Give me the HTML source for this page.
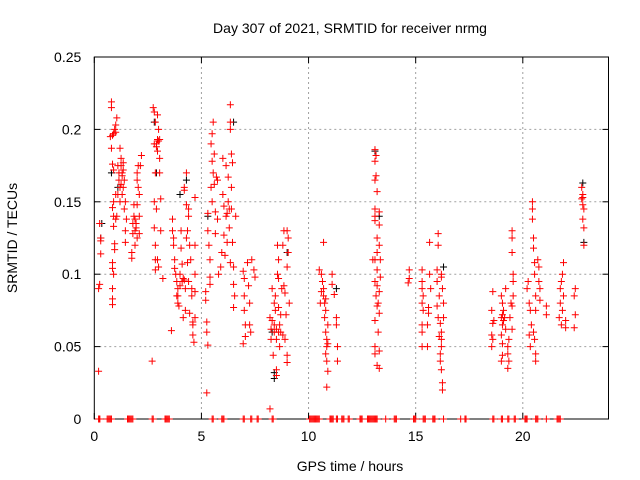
<!DOCTYPE html>
<html><head><meta charset="utf-8"><style>
body{margin:0;background:#fff;}
svg{display:block;font-family:"Liberation Sans",sans-serif;}
</style></head><body>
<svg id="chart" width="640" height="480">
<text x="350" y="33" font-size="14" text-anchor="middle">Day 307 of 2021, SRMTID for receiver nrmg</text>
<text x="350" y="471" font-size="14" text-anchor="middle">GPS time / hours</text>
<text x="0" y="0" font-size="14" text-anchor="middle" transform="translate(17,238) rotate(-90)">SRMTID / TECUs</text>
<g id="grid"></g>
<g id="axes"></g>
<g id="marks"></g>
</svg>
<script>
const xTicks=[0,5,10,15,20];
const yTicks=[0,0.05,0.1,0.15,0.2,0.25];
const yTickLabels=["0","0.05","0.1","0.15","0.2","0.25"];
const redPoints=[[0.2,0.033],[0.2,0.09],[0.25,0.093],[0.3,0.114],[0.3,0.123],[0.25,0.135],[0.3,0.125],
[0.8,0.219],[0.8,0.215],[0.85,0.196],[0.9,0.197],[0.95,0.2],[0.75,0.195],[0.8,0.187],[0.85,0.176],[0.9,0.172],[0.9,0.15],[0.85,0.146],[0.9,0.14],[0.9,0.133],[0.95,0.121],[0.95,0.117],[0.85,0.108],[0.85,0.104],[0.9,0.1],[0.85,0.09],[0.85,0.083],[0.85,0.079],[1.0,0.203],[1.05,0.208],[1.0,0.198],[1.0,0.155],[1.05,0.14],[1.0,0.138],[1.1,0.175],[1.15,0.17],[1.15,0.165],[1.2,0.16],[1.2,0.187],[1.25,0.18],[1.25,0.175],[1.3,0.17],[1.3,0.155],[1.35,0.16],[1.35,0.177],[1.4,0.165],[1.4,0.145],[1.45,0.15],[1.45,0.13],[1.5,0.138],[1.45,0.122],[1.2,0.15],[1.1,0.155],[1.3,0.168],[1.35,0.172],[1.25,0.162],
[1.75,0.115],[1.75,0.111],[1.8,0.128],[1.8,0.135],[1.85,0.14],[1.85,0.148],[1.9,0.13],[1.9,0.12],[1.95,0.135],[2.0,0.17],[2.0,0.165],[2.0,0.148],[2.05,0.175],[2.05,0.16],[2.1,0.155],[2.1,0.14],[2.15,0.175],[2.2,0.182],[2.1,0.128],[2.0,0.125],[1.9,0.138],[1.95,0.132],
[2.7,0.04],[2.75,0.215],[2.8,0.212],[2.8,0.19],[2.85,0.205],[2.85,0.17],[2.8,0.15],[2.8,0.132],[2.85,0.12],[2.85,0.11],[2.85,0.103],[2.9,0.188],[2.9,0.145],[2.95,0.21],[2.95,0.185],[3.0,0.2],[3.0,0.192],[3.0,0.105],[3.05,0.193],[3.05,0.18],[3.05,0.17],[3.1,0.152],[3.1,0.13],[3.2,0.097],[2.95,0.11],[2.9,0.19],[2.95,0.193],
[3.6,0.061],[3.65,0.138],[3.65,0.13],[3.7,0.125],[3.7,0.12],[3.75,0.11],[3.75,0.104],[3.8,0.1],[3.85,0.095],[3.85,0.085],[3.9,0.08],[3.95,0.078],[3.9,0.09],[4.0,0.092],[4.0,0.1],[4.05,0.13],[4.05,0.118],[4.1,0.107],[4.15,0.097],[4.15,0.07],[4.2,0.16],[4.2,0.158],[4.25,0.09],[4.25,0.075],[4.3,0.17],[4.3,0.148],[4.3,0.125],[4.35,0.13],[4.35,0.108],[4.4,0.145],[4.4,0.14],[4.4,0.095],[4.45,0.12],[4.5,0.11],[4.55,0.09],[4.55,0.085],[4.6,0.067],[4.6,0.065],[4.6,0.058],[4.7,0.153],[4.7,0.12],[4.7,0.1],[4.7,0.088],[4.7,0.07],[4.65,0.053],[4.45,0.073],[4.1,0.095],[4.2,0.096],[3.9,0.085],
[5.25,0.018],[5.2,0.088],[5.2,0.082],[5.25,0.067],[5.25,0.06],[5.3,0.051],[5.3,0.142],[5.3,0.13],[5.35,0.12],[5.4,0.11],[5.4,0.098],[5.4,0.093],[5.45,0.16],[5.45,0.19],[5.5,0.197],[5.55,0.205],[5.5,0.178],[5.55,0.17],[5.5,0.15],[5.6,0.183],[5.6,0.162],[5.65,0.143],[5.65,0.128],[5.7,0.167],[5.75,0.165],[5.75,0.138],[5.8,0.1],[5.9,0.105],[5.95,0.115],[6.0,0.18],[6.0,0.155],[6.05,0.147],[6.05,0.127],[6.1,0.113],[6.15,0.175],[6.15,0.14],[6.2,0.122],[6.25,0.167],[6.25,0.15],[6.3,0.132],[6.35,0.217],[6.35,0.205],[6.35,0.2],[6.35,0.108],[6.4,0.183],[6.4,0.145],[6.4,0.16],[6.45,0.177],[6.45,0.122],[6.5,0.093],[6.55,0.085],[6.5,0.077],[6.6,0.14],[6.5,0.105],[6.2,0.142],[6.3,0.145],
[6.95,0.052],[6.95,0.102],[7.0,0.097],[7.0,0.085],[7.0,0.075],[7.05,0.065],[7.05,0.057],[7.15,0.108],[7.2,0.092],[7.25,0.08],[7.25,0.065],[7.3,0.06],[7.35,0.11],[7.45,0.103],[7.5,0.098],
[8.2,0.007],[8.2,0.07],[8.25,0.062],[8.25,0.055],[8.3,0.09],[8.3,0.068],[8.35,0.044],[8.4,0.065],[8.4,0.06],[8.45,0.085],[8.45,0.075],[8.5,0.034],[8.5,0.03],[8.5,0.055],[8.55,0.12],[8.55,0.1],[8.6,0.11],[8.6,0.097],[8.65,0.065],[8.65,0.05],[8.7,0.072],[8.7,0.06],[8.75,0.09],[8.8,0.058],[8.8,0.12],[8.85,0.13],[8.85,0.092],[8.9,0.087],[8.9,0.055],[8.95,0.072],[9.0,0.13],[9.0,0.105],[9.0,0.044],[9.0,0.039],[9.05,0.125],[9.05,0.115],[9.1,0.08],[8.6,0.077],[8.4,0.08],[8.5,0.062],[8.6,0.06],
[10.5,0.103],[10.6,0.1],[10.7,0.122],[10.65,0.095],[10.7,0.09],[10.7,0.085],[10.75,0.08],[10.8,0.075],[10.75,0.07],[10.8,0.06],[10.85,0.055],[10.85,0.05],[10.9,0.052],[10.8,0.045],[10.85,0.04],[10.9,0.033],[10.85,0.022],[10.9,0.065],[10.8,0.083],[11.1,0.1],[11.1,0.093],[11.2,0.086],[11.3,0.07],[11.3,0.065],[11.35,0.05],[11.35,0.04],[10.55,0.08],[10.6,0.088],
[13.1,0.186],[13.15,0.182],[13.1,0.178],[13.15,0.168],[13.1,0.165],[13.2,0.157],[13.1,0.145],[13.1,0.14],[13.1,0.137],[13.3,0.143],[13.3,0.134],[13.2,0.125],[13.3,0.12],[13.2,0.115],[13.35,0.11],[13.1,0.11],[13.0,0.11],[13.2,0.103],[13.35,0.098],[13.1,0.095],[13.2,0.092],[13.3,0.088],[13.15,0.085],[13.25,0.08],[13.2,0.078],[13.3,0.073],[13.1,0.068],[13.25,0.06],[13.1,0.05],[13.3,0.047],[13.1,0.045],[13.2,0.037],[13.3,0.035],
[14.7,0.103],[14.7,0.097],[14.65,0.094],
[15.3,0.103],[15.3,0.095],[15.3,0.09],[15.35,0.085],[15.3,0.08],[15.35,0.075],[15.3,0.065],[15.3,0.06],[15.3,0.05],[15.65,0.122],[15.65,0.1],[15.7,0.09],[15.6,0.077],[15.6,0.073],[15.55,0.065],[15.55,0.05],[16.05,0.128],[16.05,0.12],[16.0,0.103],[16.0,0.095],[16.2,0.1],[16.2,0.098],[16.1,0.085],[16.0,0.078],[16.05,0.07],[16.15,0.066],[16.2,0.06],[16.1,0.057],[16.2,0.05],[16.15,0.045],[16.15,0.04],[16.2,0.034],[16.25,0.025],[16.25,0.02],[16.25,0.09],[16.3,0.08],[16.3,0.07],[16.2,0.055],
[18.6,0.088],[18.55,0.075],[18.6,0.066],[18.55,0.058],[18.55,0.05],[18.6,0.055],[18.65,0.068],[19.0,0.085],[19.05,0.08],[19.1,0.075],[19.0,0.07],[19.05,0.065],[19.0,0.058],[19.05,0.052],[19.05,0.044],[19.0,0.04],[19.15,0.07],[19.2,0.09],[19.2,0.062],[19.3,0.05],[19.3,0.045],[19.35,0.04],[19.3,0.035],[19.35,0.055],[19.4,0.07],[19.45,0.08],[19.5,0.078],[19.5,0.062],[19.55,0.085],[19.55,0.095],[19.5,0.115],[19.5,0.125],[19.5,0.13],[19.55,0.1],[19.1,0.068],[19.05,0.072],
[20.2,0.09],[20.25,0.095],[20.3,0.08],[20.35,0.075],[20.4,0.065],[20.3,0.058],[20.35,0.05],[20.45,0.138],[20.45,0.145],[20.45,0.15],[20.5,0.125],[20.5,0.118],[20.55,0.108],[20.55,0.1],[20.6,0.085],[20.6,0.075],[20.7,0.11],[20.75,0.105],[20.75,0.095],[20.8,0.09],[20.8,0.082],[20.5,0.06],[20.6,0.045],[20.6,0.04],[20.55,0.055],[21.1,0.078],[21.1,0.072],
[21.7,0.07],[21.75,0.08],[21.75,0.09],[21.8,0.095],[21.85,0.1],[21.9,0.108],[21.9,0.085],[21.85,0.075],[21.8,0.065],[22.0,0.068],[22.0,0.063],[22.45,0.09],[22.4,0.085],[22.45,0.072],[22.4,0.063],
[22.75,0.16],[22.8,0.155],[22.75,0.152],[22.8,0.148],[22.85,0.145],[22.8,0.138],[22.85,0.132],[22.85,0.12],[22.8,0.153]];
const blackPoints=[[0.35,0.135],[0.3,0.125],[2.8,0.205],[2.9,0.17],[4.3,0.165],[4.0,0.155],[5.3,0.14],[6.5,0.205],[8.4,0.032],[8.4,0.028],[8.3,0.06],[9.0,0.115],[11.3,0.09],[13.1,0.185],[13.3,0.14],[16.3,0.105],[22.8,0.163],[22.85,0.122],[1.1,0.16],[0.8,0.17]];
const zeroTimes=[0.2,0.23,0.26,0.6,0.65,0.7,0.75,0.8,1.55,1.6,1.65,1.7,1.75,1.8,2.7,2.75,3.3,3.35,3.4,3.45,3.5,5.5,5.55,5.95,6.0,6.05,6.95,7.0,7.3,7.35,7.6,7.65,8.3,8.35,10.05,10.1,10.15,10.2,10.25,10.3,10.35,10.4,10.45,10.5,11.0,11.05,11.1,11.15,11.3,11.35,11.55,11.6,11.65,11.85,11.9,12.4,12.45,12.5,12.75,12.8,12.85,12.9,12.95,13.0,13.05,13.1,13.15,13.2,13.6,14.0,14.05,14.1,14.9,14.95,15.0,15.35,15.4,15.45,15.8,15.85,15.9,16.3,17.1,17.3,17.35,18.6,18.65,19.0,19.05,19.3,19.35,19.6,19.65,20.1,20.15,20.2,20.6,20.65,20.7,21.1,21.6,21.65,21.7,21.75];

const L=94.3,R=608.5,T=57,B=419,xMax=24,yMax=0.25;
const xs=t=>L+(R-L)*t/xMax;
const ys=v=>B-(B-T)*v/yMax;
const NS="http://www.w3.org/2000/svg";
function mk(tag,attrs,parent){const e=document.createElementNS(NS,tag);for(const k in attrs)e.setAttribute(k,attrs[k]);parent.appendChild(e);return e;}
const grid=document.getElementById('grid'),axes=document.getElementById('axes'),marks=document.getElementById('marks');
xTicks.forEach(t=>{
  const x=xs(t);
  if(t>0){const g=mk('line',{x1:x,x2:x,y1:T,y2:B,stroke:'#a0a0a0','stroke-dasharray':'2,3'},grid);
  
  }
  mk('line',{x1:x,x2:x,y1:B,y2:B-6,stroke:'#000'},axes);
  mk('line',{x1:x,x2:x,y1:T,y2:T+6,stroke:'#000'},axes);
  const lb=mk('text',{x:x,y:B+22,'font-size':14,'text-anchor':'middle'},axes);lb.textContent=t;
  
  
});
yTicks.forEach((v,i)=>{
  const y=ys(v);
  if(v>0&&v<yMax){const g=mk('line',{x1:L,x2:R,y1:y,y2:y,stroke:'#a0a0a0','stroke-dasharray':'2,3'},grid);
  
  }
  mk('line',{x1:L,x2:L+6,y1:y,y2:y,stroke:'#000'},axes);
  mk('line',{x1:R,x2:R-6,y1:y,y2:y,stroke:'#000'},axes);
  const lb=mk('text',{x:L-13,y:y+5,'font-size':14,'text-anchor':'end'},axes);lb.textContent=yTickLabels[i];
  
  
});
const fr=mk('rect',{x:L,y:T,width:R-L,height:B-T,fill:'none',stroke:'#000'},axes);


function plus(t,v,c){
  const x=xs(t),y=ys(v);
  const p=mk('path',{d:`M${x-3.5},${y}H${x+3.5}M${x},${y-3.5}V${y+3.5}`,stroke:c,'stroke-width':1,fill:'none'},marks);
  
  
}
blackPoints.forEach(p=>plus(p[0],p[1],'#000'));
redPoints.forEach(p=>plus(p[0],p[1],'#f00'));
zeroTimes.forEach(t=>plus(t,0,'#f00'));
</script>
</body></html>
